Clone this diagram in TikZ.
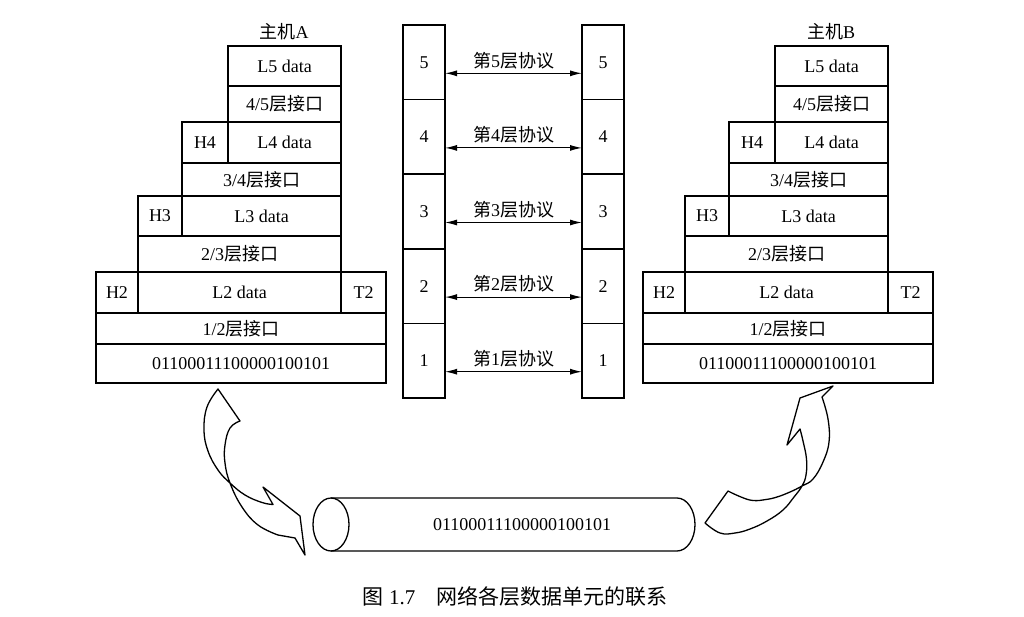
\documentclass[tikz,border=0pt]{standalone}
\usepackage{fontspec}
\setmainfont{Liberation Serif}
\newfontfamily\cjk{Noto Sans CJK SC}
\usepackage{tikz}
\usetikzlibrary{positioning, arrows.meta}

\begin{document}
\begin{tikzpicture}[x=1pt, y=-1pt, >={Latex[length=12pt, width=6pt]},
					font=\fontsize{18}{21}\selectfont,
					cell/.style={draw, line width=1.5pt, inner sep=0pt, outer sep=0pt, anchor=north west},
					layer/.style={cell, minimum width=42pt, minimum height=74.6pt},
					proto/.style={<->, line width=1.1pt},
					twist/.style={draw, line width=1.3pt, line join=round}]
\useasboundingbox (0,0) rectangle (1024,616);

%Hosts A and B: same stack, B shifted to the right
\foreach \h/\dx in {A/0, B/547} {
	\begin{scope}[xshift=\dx pt, name prefix=\h-]
		\node (host) at (284,32) {{\cjk 主机}\h};
		\node[cell, minimum width=113pt, minimum height=40pt] (L5)   at (228,46)  {L5 data};
		\node[cell, minimum width=113pt, minimum height=36pt] (I45)  at (228,86)  {4/5{\cjk 层接口}};
		\node[cell, minimum width=46pt,  minimum height=41pt] (H4)   at (182,122) {H4};
		\node[cell, minimum width=113pt, minimum height=41pt] (L4)   at (228,122) {L4 data};
		\node[cell, minimum width=159pt, minimum height=33pt] (I34)  at (182,163) {3/4{\cjk 层接口}};
		\node[cell, minimum width=44pt,  minimum height=40pt] (H3)   at (138,196) {H3};
		\node[cell, minimum width=159pt, minimum height=40pt] (L3)   at (182,196) {L3 data};
		\node[cell, minimum width=203pt, minimum height=36pt] (I23)  at (138,236) {2/3{\cjk 层接口}};
		\node[cell, minimum width=42pt,  minimum height=41pt] (H2)   at (96,272)  {H2};
		\node[cell, minimum width=203pt, minimum height=41pt] (L2)   at (138,272) {L2 data};
		\node[cell, minimum width=45pt,  minimum height=41pt] (T2)   at (341,272) {T2};
		\node[cell, minimum width=290pt, minimum height=31pt] (I12)  at (96,313)  {1/2{\cjk 层接口}};
		\node[cell, minimum width=290pt, minimum height=39pt] (bits) at (96,344)  {01100011100000100101};
	\end{scope}
}

%Layer columns
\node[layer] (l5) at (403,25) {5};
\node[layer] (r5) at (582,25) {5};
\foreach \i/\j in {4/5, 3/4, 2/3, 1/2} {
	\node[layer, below=0pt of l\j] (l\i) {\i};
	\node[layer, below=0pt of r\j] (r\i) {\i};
}

%Peer protocols
\foreach \i in {1,...,5}
	\draw[proto] ([yshift=-11pt]l\i.east) -- node[yshift=13pt] {{\cjk 第}\i{\cjk 层协议}} ([yshift=-11pt]r\i.west);

%Physical medium
\draw[line width=1.3pt] (331,524.5) ellipse [x radius=18pt, y radius=26.5pt];
\draw[line width=1.3pt] (331,498) -- (677,498)
	arc[start angle=90, end angle=-90, x radius=18pt, y radius=26.5pt] -- (331,551);
\node (wire) at (522,525) {01100011100000100101};

%Twisted arrows: A down to the medium, medium up to B
\draw[twist] plot[smooth, tension=0.7] coordinates {(218,389) (207,407) (204,430) (208,451) (218,470) (230,483) (245,495) (262,502.5) (273,504.5)}
	-- (263,487) -- (300,516) -- (305,555) -- (295,538)
	-- plot[smooth, tension=0.7] coordinates {(278,535) (258,525) (242,507) (230,483) (225,463) (225,445) (230,428) (240,421)}
	-- cycle;
\draw[twist] (833,386) -- (800,398) -- (787,445)
	-- plot[smooth, tension=0.7] coordinates {(800,429) (803,441) (806.5,459) (806,475) (802,486) (794,497) (783,510) (767,521) (750,529) (735,533) (720,533) (705,523)}
	-- plot[smooth, tension=0.7] coordinates {(728,491) (741,497) (753,500.5) (766,499.5) (777,497) (790,492) (802,486) (813,479) (823,462) (829,442) (828,419) (822,397)}
	-- cycle;

\node[font=\fontsize{21}{24}\selectfont] (caption) at (515,596) {{\cjk 图} 1.7\quad{\cjk 网络各层数据单元的联系}};
\end{tikzpicture}
\end{document}
